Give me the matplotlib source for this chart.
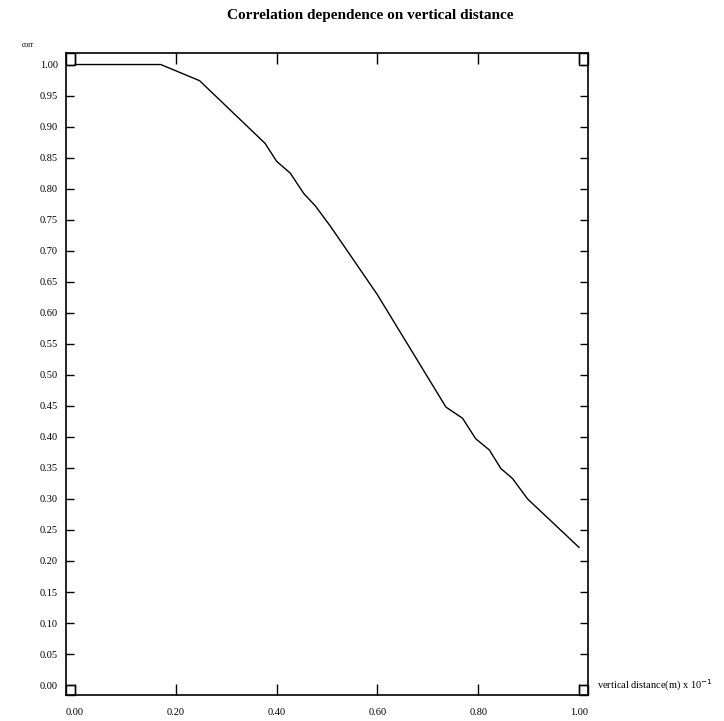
import matplotlib
matplotlib.use("Agg")
import matplotlib.pyplot as plt
from matplotlib.patches import Rectangle
import numpy as np

plt.rcParams['font.family'] = ['Liberation Serif', 'DejaVu Serif']

# data
dist = [0.0, 0.17, 0.247, 0.377, 0.40, 0.427, 0.454, 0.477, 0.507, 0.535,
        0.60, 0.736, 0.769, 0.795, 0.822, 0.845, 0.868, 0.898, 1.0]
corr = [1.0, 1.0, 0.974, 0.873, 0.844, 0.825, 0.792, 0.772, 0.739, 0.706,
        0.629, 0.448, 0.430, 0.397, 0.379, 0.349, 0.333, 0.300, 0.222]
xticks = [0.0, 0.2, 0.4, 0.6, 0.8, 1.0]
xticklabels = ["0.00", "0.20", "0.40", "0.60", "0.80", "1.00"]
yticks = [round(0.05 * i, 2) for i in range(21)]
yticklabels = ["%.2f" % v for v in yticks]

fig = plt.figure(figsize=(7.24, 7.21), dpi=100)
ax = fig.add_axes([0.0912, 0.036, 0.721, 0.890])

xlim = (-0.018, 1.018)
ylim = (-0.016, 1.018)
ax.set_xlim(*xlim)
ax.set_ylim(*ylim)

ax.plot(dist, corr, color='black', lw=1.0)

# corner boxes
for (x0, x1) in [(xlim[0], 0.0), (1.0, xlim[1])]:
    for (y0, y1) in [(ylim[0], 0.0), (1.0, ylim[1])]:
        ax.add_patch(Rectangle((x0, y0), x1 - x0, y1 - y0, fill=False,
                               edgecolor='black', lw=1.0, clip_on=False))

ax.set_xticks(xticks)
ax.set_xticklabels(xticklabels)
ax.set_yticks(yticks)
ax.set_yticklabels(yticklabels)
ax.tick_params(axis='x', direction='in', length=8, width=1.0, top=True,
               bottom=True, labelsize=7.5, pad=9)
ax.tick_params(axis='y', direction='in', length=6, width=1.0, left=True,
               right=True, labelsize=7.5, pad=6)
for s in ax.spines.values():
    s.set_linewidth(1.2)

fig.text(0.511, 0.979, "Correlation dependence on vertical distance",
         ha='center', va='center', fontsize=11, fontweight='bold')
fig.text(0.030, 0.938, "corr", ha='left', va='center', fontsize=5.5)
fig.text(0.825, 0.05, "vertical distance(m) x 10$^{-1}$", ha='left',
         va='center', fontsize=7.5)

fig.savefig("out.png", dpi=100)
